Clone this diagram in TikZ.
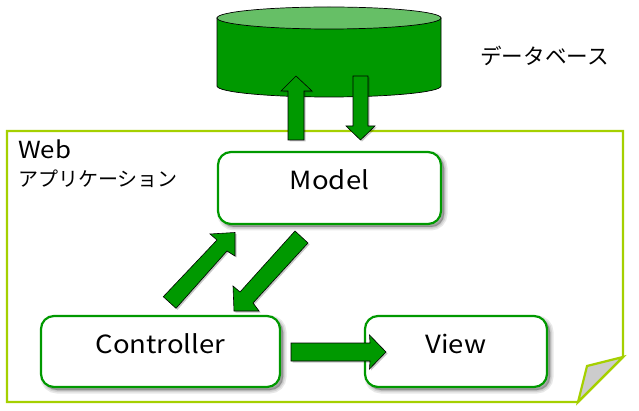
\documentclass[tikz,border=0pt]{standalone}
\usepackage{fontspec}
\setmainfont{Noto Sans CJK JP}
\newfontfamily\widelatin[FakeStretch=1.1]{Noto Sans CJK JP}
\definecolor{dbgreen}{HTML}{009900}
\definecolor{dbtop}{HTML}{66BF66}
\definecolor{pageline}{HTML}{A5D000}
\definecolor{foldgray}{HTML}{CCCCCC}
\tikzset{
  pageedge/.style={draw=pageline,line width=2.2pt,line join=miter,fill=white},
  softlayer/.style={preaction={draw=black,fill=black,line width=#1,opacity=0.09,transform canvas={shift={(3pt,-3pt)}}}},
  softshadow/.style={softlayer=7pt,softlayer=4pt,softlayer=1.5pt},
  arrowshadow/.style={preaction={fill=black,opacity=0.22,transform canvas={shift={(1.5pt,-1.5pt)}}}},
  blockarrow/.style={arrowshadow,draw=black,line width=0.6pt,fill=dbgreen,line join=miter},
  roundbox/.style={softshadow,draw=dbgreen,line width=2.2pt,fill=white,rounded corners=13pt,inner sep=0pt,minimum height=71pt,font=\widelatin\fontsize{25}{27}\selectfont,text=black},
  plainlabel/.style={font=\fontsize{20}{28}\selectfont,text=black,inner sep=0pt,align=left}
}
\begin{document}
\begin{tikzpicture}[x=1pt,y=-1pt]
\useasboundingbox (0,0) rectangle (639,411);
\fill[white] (0,0) rectangle (639,411);
% page with curled corner
\draw[pageedge] (7,131) -- (623,131) -- (623,357) -- (578,402) -- (7,402) -- cycle;
\draw[draw=pageline,line width=2.2pt,fill=foldgray,line join=miter] (623,357) -- (587,366) -- (578,402) -- cycle;
% cylinder
\draw[draw=black,line width=0.7pt,fill=dbgreen] (217,18) -- (217,86) arc[start angle=180,end angle=0,x radius=112,y radius=11] -- (441,18) -- cycle;
\draw[draw=black,line width=0.7pt,fill=dbtop] (329,18) ellipse[x radius=112,y radius=11];
% boxes (text sits above centre, as in the reference)
\node[roundbox,minimum width=223pt,minimum height=72pt,text depth=16pt,text height=20pt] (model) at (329.5,188) {Model};
\node[roundbox,minimum width=239pt,text depth=16pt,text height=20pt] (controller) at (160.5,351.5) {Controller};
\node[roundbox,minimum width=182pt,text depth=16pt,text height=20pt] (view) at (456,351.5) {View};
% labels
\node[plainlabel,anchor=north west] (weblabel) at (18,140) {{\widelatin\fontsize{23.5}{28}\selectfont Web}\\アプリケーション};
\node[plainlabel,anchor=west,font=\fontsize{21.6}{24}\selectfont] (dblabel) at (480,56) {データベース};
% block arrows
\draw[blockarrow] (288,140) -- (288,91) -- (281,91) -- (296,76) -- (312,91) -- (304,91) -- (304,140) -- cycle;
\draw[blockarrow] (353,76) -- (368,76) -- (368,126) -- (375,126) -- (360.5,140) -- (346,126) -- (353,126) -- cycle;
\draw[blockarrow] (163.3,296.7) -- (176,308.3) -- (227,251) -- (235,256) -- (235,232.5) -- (210,234) -- (217,240) -- cycle;
\draw[blockarrow] (295,231) -- (308,243) -- (253,303) -- (259,311) -- (234,311) -- (233,286) -- (240,292) -- cycle;
\draw[blockarrow] (291,343) -- (370,343) -- (369.5,335) -- (386,352) -- (369.5,369) -- (370,361) -- (291,361) -- cycle;
\end{tikzpicture}
\end{document}
